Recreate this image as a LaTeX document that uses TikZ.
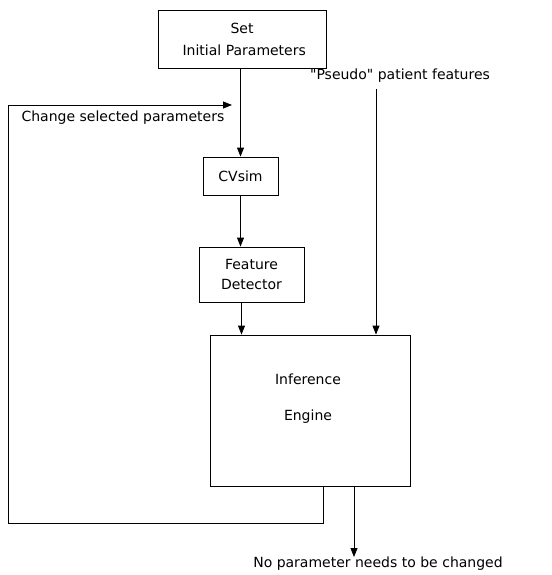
\documentclass[tikz,border=0pt]{standalone}
\usepackage{fontspec}
\setmainfont{DejaVu Sans}[Ligatures=TeXOff]
\usepackage{tikz}
\usetikzlibrary{arrows.meta}
\tikzset{
  blk/.style={draw=black, line width=0.8pt, align=center, font=\fontsize{14}{20}\selectfont},
  lab/.style={font=\fontsize{14}{17}\selectfont, inner sep=0pt},
  wire/.style={draw=black, line width=0.8pt},
  arr/.style={wire, -{Triangle[length=9pt,width=7pt]}},
}
\begin{document}
\begin{tikzpicture}[x=1pt,y=-1pt]
\useasboundingbox (0,0) rectangle (551,575);

\node[blk, minimum width=168pt, minimum height=58pt] (setp) at (242,39) {Set\\[2pt]\ Initial Parameters};
\node[blk, minimum width=75pt, minimum height=38pt] (cvsim) at (240.5,176) {CVsim};
\node[blk, minimum width=105pt, minimum height=55pt] (feat) at (251.5,274.5) {Feature\\Detector};
\node[blk, minimum width=200pt, minimum height=151pt] (eng) at (310,410.5) {};
\node[lab, align=center, font=\fontsize{14}{36}\selectfont] (engtxt) at (308,399) {Inference\\Engine};

\node[lab] (pseudo) at (400,76) {"Pseudo" patient features};
\node[lab] (chg) at (123,118) {Change selected parameters};
\node[lab] (nochg) at (378,564) {No parameter needs to be changed};

% helper points on the box edges
\coordinate (fdx) at ([xshift=-10pt]feat.south);
\coordinate (pdx) at ([xshift=66pt]eng.north);
\coordinate (fbx) at ([xshift=13pt]eng.south);
\coordinate (outx) at ([xshift=44pt]eng.south);
\coordinate (fbcorner) at (8,523);
\coordinate (loopin) at (232,105);

\draw[arr] (cvsim.north |- setp.south) -- (cvsim.north);
\draw[arr] (cvsim.south) -- (cvsim.south |- feat.north);
\draw[arr] (fdx) -- (fdx |- eng.north);
\draw[arr] (pdx |- pseudo.south) ++(0,6) -- (pdx);

% feedback loop back to the simulator
\draw[arr] (fbx) |- (fbcorner) |- (loopin);

\draw[arr] (outx) -- (outx |- nochg.north);
\end{tikzpicture}
\end{document}
